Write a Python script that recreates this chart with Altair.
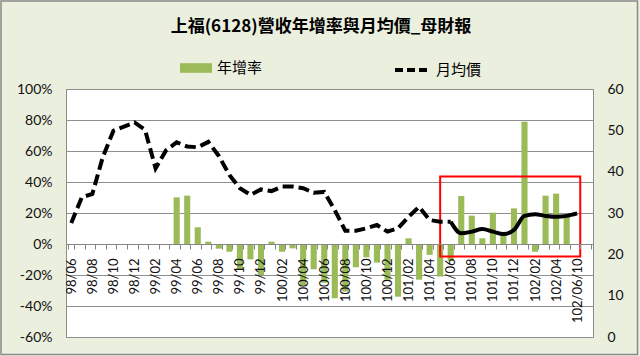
import json
import altair as alt
import pandas as pd

# ---- data ----
months = [
    "98/06", "98/07", "98/08", "98/09", "98/10", "98/11", "98/12",
    "99/01", "99/02", "99/03", "99/04", "99/05", "99/06", "99/07", "99/08",
    "99/09", "99/10", "99/11", "99/12",
    "100/01", "100/02", "100/03", "100/04", "100/05", "100/06", "100/07",
    "100/08", "100/09", "100/10", "100/11", "100/12",
    "101/01", "101/02", "101/03", "101/04", "101/05", "101/06", "101/07",
    "101/08", "101/09", "101/10", "101/11", "101/12",
    "102/01", "102/02", "102/03", "102/04", "102/05", "102/06/10", "102/07",
]

# 年增率 (%)
yoy = [None] * 10 + [
    30.1, 31.2, 10.8, 1.5, -3.0, -5.0, -16.3, -9.9, -20.0, 1.5,
    -5.0, -2.8, -26.5, -16.3, -25.0, -35.0, -30.7, -15.0, -8.6, -12.0,
    -23.0, -34.0, 3.7, -23.0, -7.0, -21.0, -11.0, 31.0, 18.3, 3.7,
    20.2, 5.8, 23.0, 78.9, -5.0, 31.2, 32.5, 17.8,
] + [None, None]

# 月均價
price = [
    27.6, 33.8, 34.6, 43.6, 49.9, 50.9, 51.9, 50.1, 40.8, 45.2,
    47.1, 46.1, 45.9, 47.2, 43.8, 39.2, 36.0, 34.4, 35.7, 35.3,
    36.4, 36.4, 36.0, 34.9, 35.1, 30.7, 25.7, 25.7, 26.3, 27.1,
    25.5, 26.3, 29.1, 31.5, 28.3, 27.9, 27.9, 25.1, 25.5, 26.1,
    25.5, 24.9, 25.9, 29.3, 29.7, 29.3, 29.1, 29.3, 29.9, None,
]

labeled = months[0:49:2]
split_idx = 36

title_text = "上福(6128)營收年增率與月均價_母財報"
bar_name = "年增率"
line_name = "月均價"

# highlight box (category start/end, left-axis %)
box = pd.DataFrame({"m1": ["101/05"], "m2": ["102/06/10"], "top": [43.6], "bottom": [-8.0]})

W, H = 527, 248
CJK = "Noto Sans CJK TC"
NUM = "Lato"
zero_from_bottom = H * 60 / 160

df = pd.DataFrame({"month": months, "yoy": yoy, "price": price, "idx": list(range(len(months)))})

label_expr = "indexof(%s, datum.value) >= 0 ? datum.value : ''" % json.dumps(labeled, ensure_ascii=False)

xscale = alt.Scale(domain=months, paddingInner=0.42, paddingOuter=0.21)
xaxis = alt.Axis(
    title=None, offset=-zero_from_bottom, labelExpr=label_expr, labelAngle=-90,
    labelFont=NUM, labelFontSize=13, labelColor="#111", labelPadding=9,
    labelOverlap=False, tickBand="extent", tickSize=5, tickColor="#868686",
    domainColor="#868686", domainWidth=1, grid=False, zindex=1,
)
yleft_scale = alt.Scale(domain=[-60, 100], nice=False, zero=False)
yleft_axis = alt.Axis(
    title=None, values=list(range(-60, 101, 20)), labelExpr="datum.value + '%'",
    labelFont=NUM, labelFontSize=14, labelColor="#111", labelPadding=14,
    labelOverlap=False, ticks=False, domain=False, grid=True,
    gridColor="#8f8f8f", gridWidth=1, orient="left",
)
yright_scale = alt.Scale(domain=[0, 60], nice=False)
yright_axis = alt.Axis(
    title=None, orient="right", values=list(range(0, 61, 10)),
    labelFont=NUM, labelFontSize=14, labelColor="#111", labelPadding=14,
    labelOverlap=False, ticks=False, domain=False, grid=False,
)


def xenc(field="month"):
    return alt.X(field + ":N", sort=months, scale=xscale, axis=xaxis)


base = alt.Chart(df)

bars = base.transform_calculate(series="'%s'" % bar_name).mark_bar(opacity=1).encode(
    x=xenc(),
    y=alt.Y("yoy:Q", scale=yleft_scale, axis=yleft_axis),
    color=alt.Color(
        "series:N",
        scale=alt.Scale(domain=[bar_name], range=["#9BBB59"]),
        legend=alt.Legend(
            title=None, orient="none", legendX=114, legendY=-37, padding=0,
            symbolType="M-1,-0.3H1V0.3H-1Z", symbolSize=1024, symbolStrokeWidth=0,
            labelFont=CJK, labelFontSize=15, labelColor="#000", labelOffset=5,
        ),
    ),
)

rect = alt.Chart(box).mark_rect(fillOpacity=0, stroke="#FF0000", strokeWidth=2).encode(
    x=alt.X("m1:N", sort=months, scale=xscale, axis=xaxis, bandPosition=0.5),
    x2=alt.X2("m2", bandPosition=1),
    y=alt.Y("top:Q", scale=yleft_scale, axis=yleft_axis),
    y2="bottom:Q",
)

left = alt.layer(bars, rect)

line_dash = base.transform_filter("datum.idx <= %d" % split_idx).transform_calculate(
    series2="'%s'" % line_name
).mark_line(strokeWidth=4, strokeDash=[11, 5]).encode(
    x=xenc(),
    y=alt.Y("price:Q", scale=yright_scale, axis=yright_axis),
    stroke=alt.Stroke(
        "series2:N",
        scale=alt.Scale(domain=[line_name], range=["#000000"]),
        legend=alt.Legend(
            title=None, orient="none", legendX=327, legendY=-37.5, padding=0,
            symbolType="stroke", symbolSize=1089, symbolStrokeWidth=4, symbolDash=[8, 4],
            labelFont=CJK, labelFontSize=15, labelColor="#000", labelOffset=6,
        ),
    ),
)

line_solid = base.transform_filter("datum.idx >= %d" % split_idx).mark_line(
    strokeWidth=4, interpolate="monotone", color="#000000"
).encode(
    x=xenc(),
    y=alt.Y("price:Q", scale=yright_scale, axis=yright_axis),
)

right = alt.layer(line_dash, line_solid)

frame = alt.Chart(pd.DataFrame({"k": [0]})).mark_rect(
    fillOpacity=0, stroke="#8a8a8a", strokeWidth=1.5
).encode(
    x=alt.value(-65), x2=alt.value(571.5), y=alt.value(-88), y2=alt.value(265.5)
)

chart = alt.layer(left, right, frame).resolve_scale(y="independent").properties(
    width=W, height=H,
    title=alt.Title(
        title_text, font=CJK, fontSize=17, fontWeight="bold", color="#000",
        anchor="middle", frame="group", dx=-8.5, offset=-36,
    ),
    autosize=alt.AutoSizeParams(type="none"),
    padding={"left": 66, "top": 89, "right": 47, "bottom": 19},
    background="#EBEFDE",
).configure_view(fill="#FFFFFF", stroke="#8c8c8c", strokeWidth=1)

chart.save("out.html", embed_options={"renderer": "svg", "actions": False})
